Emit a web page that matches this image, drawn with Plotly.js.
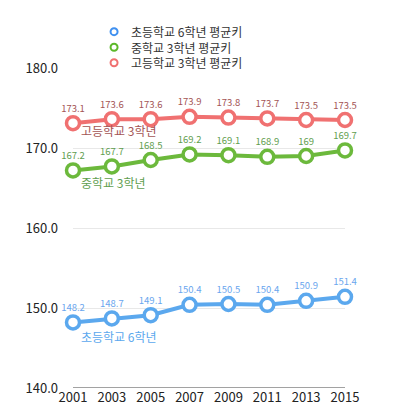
<!DOCTYPE html>
<html><head><meta charset="utf-8">
<script src="https://cdn.plot.ly/plotly-3.0.1.min.js"></script>
<style>html,body{margin:0;padding:0;background:#fff}#c{width:397px;height:419px}</style>
</head><body><div id="c"></div>
<script>
const years = [2001, 2003, 2005, 2007, 2009, 2011, 2013, 2015];
const elementary = [148.2, 148.7, 149.1, 150.4, 150.5, 150.4, 150.9, 151.4];
const middle = [167.2, 167.7, 168.5, 169.2, 169.1, 168.9, 169, 169.7];
const high = [173.1, 173.6, 173.6, 173.9, 173.8, 173.7, 173.5, 173.5];
const seriesNames = ['초등학교 6학년 평균키', '중학교 3학년 평균키', '고등학교 3학년 평균키'];
const seriesLabels = ['초등학교 6학년', '중학교 3학년', '고등학교 3학년'];
const yTicks = [140, 150, 160, 170, 180];

const F = '"Noto Sans CJK KR", "Noto Sans", sans-serif';
const colors = ['#5ba8ee', '#6cb93c', '#f07171'];
const legendColors = ['#3f90f0', '#5cb82a', '#f07070'];
const textColors = ['#6aa6ee', '#5f9e4f', '#a35454'];
const labelColors = ['#5ba8ee', '#5f9e4f', '#a35454'];
const data = [elementary, middle, high];

const traces = data.map((d, i) => ({
  x: years, y: d, name: seriesNames[i], type: 'scatter', mode: 'lines+markers+text',
  showlegend: false,
  line: {color: colors[i], width: 4},
  marker: {symbol: 'circle', size: 13, color: '#fff', line: {color: colors[i], width: 3.5}},
  text: d.map(v => String(v)), textposition: 'top center',
  textfont: {family: F, size: 9.5, color: textColors[i]},
  cliponaxis: false
}));

const labelShift = [-14, -12, -7];
const annotations = data.map((d, i) => ({
  x: years[0], y: d[0], xref: 'x', yref: 'y', text: seriesLabels[i], showarrow: false,
  xanchor: 'left', yanchor: 'middle', xshift: 6, yshift: labelShift[i],
  font: {family: F, size: 12, color: labelColors[i]}
}));

// manual compact legend at the top
const legY = [1.1135, 1.065, 1.0165];
const shapes = [{type: 'line', xref: 'paper', yref: 'y', x0: 0, x1: 1, y0: 140, y1: 140, line: {color: '#444', width: 1}}];
annotations.push({x: 0.205, y: legY[1], xref: 'paper', yref: 'paper', text: seriesNames.join('<br>'),
  showarrow: false, align: 'left', xanchor: 'left', yanchor: 'middle',
  font: {family: F, size: 12, color: '#333'}});
seriesNames.forEach((n, i) => {
  shapes.push({type: 'circle', xref: 'paper', yref: 'paper', xsizemode: 'pixel', ysizemode: 'pixel',
    xanchor: 0.151, yanchor: legY[i], x0: -3.5, x1: 3.5, y0: -3.5, y1: 3.5,
    fillcolor: '#fff', line: {color: legendColors[i], width: 2}});
});

const layout = {
  width: 397, height: 419,
  margin: {l: 73, r: 52, t: 68, b: 31},
  paper_bgcolor: '#fff', plot_bgcolor: '#fff',
  showlegend: false,
  xaxis: {range: [2001, 2015], tickvals: years, ticktext: years.map(String), showgrid: false,
    zeroline: false, showline: false, ticks: '', tickfont: {family: F, size: 13, color: '#222'}},
  yaxis: {range: [140, 180], tickvals: yTicks, ticktext: yTicks.map(v => v.toFixed(1)),
    showgrid: true, gridcolor: '#e8e8e8', gridwidth: 1, zeroline: false, showline: false, ticks: '',
    tickfont: {family: F, size: 13, color: '#222'}, ticklabelstandoff: 14},
  shapes: shapes,
  annotations: annotations
};
Plotly.newPlot('c', traces, layout, {displayModeBar: false, staticPlot: true});
</script></body></html>
